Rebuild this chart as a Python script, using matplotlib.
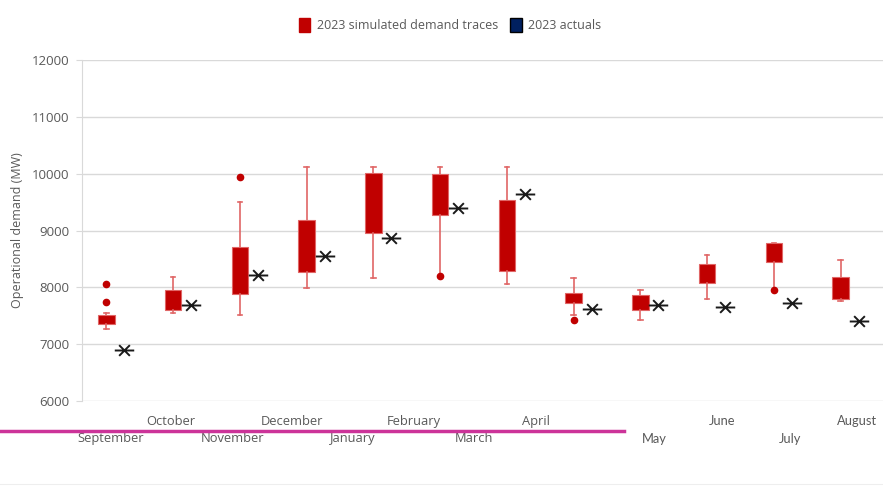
import matplotlib.pyplot as plt
from matplotlib.patches import Patch
from matplotlib.lines import Line2D
from matplotlib.path import Path

months = ["September", "October", "November", "December", "January", "February",
          "March", "April", "May", "June", "July", "August"]

# simulated demand traces (MW): box edges, whisker ends, outliers
q1 = [7360, 7600, 7880, 8275, 8960, 9270, 8290, 7720, 7600, 8080, 8445, 7795]
q3 = [7515, 7960, 8715, 9190, 10010, 10000, 9530, 7905, 7865, 8410, 8785, 8175]
whis_lo = [7265, 7545, 7520, 7985, 8170, 8200, 8055, 7515, 7425, 7800, 7960, 7765]
whis_hi = [7545, 8180, 9510, 10120, 10120, 10120, 10120, 8170, 7955, 8565, 8785, 8475]
outliers = [[8050, 7750], [], [9935], [], [], [8195], [], [7420], [], [], [7955], []]

# 2023 actuals (MW)
actuals = [6900, 7695, 8210, 8545, 8860, 9400, 9635, 7620, 7685, 7650, 7730, 7415]

# tick label placement (the left half of the source is squeezed)
label_x = [-0.07, 0.83, 1.75, 2.65, 3.56, 4.47, 5.37, 6.30, 8.08, 9.09, 10.11, 11.11]

RED = "#C00000"
LIGHT_RED = "#E06666"
NAVY = "#002060"
GRAY = "#595959"

# Excel-style star: a dash with an x on top
STAR = Path([(-1, 0), (1, 0), (-0.55, -0.55), (0.55, 0.55), (-0.55, 0.55), (0.55, -0.55)],
            [Path.MOVETO, Path.LINETO, Path.MOVETO, Path.LINETO, Path.MOVETO, Path.LINETO])


def main():
    fig = plt.figure(figsize=(8.83, 4.86), dpi=100)
    ax = fig.add_axes([0.0929, 0.1749, 0.9071, 0.7016])

    stats = []
    for i in range(len(months)):
        stats.append({"med": (q1[i] + q3[i]) / 2, "q1": q1[i], "q3": q3[i],
                      "whislo": whis_lo[i], "whishi": whis_hi[i],
                      "fliers": outliers[i]})
    pos = [i - 0.135 for i in range(len(months))]
    ax.bxp(stats, positions=pos, widths=0.25, patch_artist=True,
           showfliers=True, capwidths=0.07,
           boxprops=dict(facecolor=RED, edgecolor=LIGHT_RED, linewidth=0.8),
           medianprops=dict(color=RED, linewidth=0),
           whiskerprops=dict(color=LIGHT_RED, linewidth=1.2),
           capprops=dict(color=LIGHT_RED, linewidth=1.2),
           flierprops=dict(marker="o", markerfacecolor=RED, markeredgecolor=RED,
                           markersize=4.5))

    ax.plot([i + 0.135 for i in range(len(months))], actuals, linestyle="none",
            marker=STAR, markersize=14, markeredgecolor="#1a1a1a",
            markeredgewidth=1.4, markerfacecolor="none", zorder=4)

    ax.set_xlim(-0.5, 11.5)
    ax.set_ylim(6000, 12000)
    ax.set_yticks(range(6000, 12001, 1000))
    ax.yaxis.grid(True, color="#D9D9D9", linewidth=1)
    ax.set_axisbelow(True)
    for side in ["top", "right", "bottom"]:
        ax.spines[side].set_visible(False)
    ax.spines["left"].set_color("#D9D9D9")
    ax.tick_params(axis="y", colors="#D9D9D9", length=4, labelcolor=GRAY,
                   labelsize=9.5, pad=5)
    for t in ax.get_yticklabels():
        t.set_fontfamily("Open Sans")
    ax.set_xticks([])
    ax.set_ylabel("Operational demand (MW)", color=GRAY, fontsize=9,
                  family="Open Sans", labelpad=6)

    for i, name in enumerate(months):
        upper = i % 2 == 1
        ax.text(label_x[i], 5640 if upper else 5340, name,
                ha="center", va="center", color=GRAY, fontsize=9.3,
                family="Lato" if i >= 8 else "Open Sans", clip_on=False)

    fig.add_artist(Line2D([0, 624 / 883], [1 - 431 / 486, 1 - 431 / 486],
                          color="#CC3399", linewidth=2.5))
    fig.add_artist(Line2D([0, 1], [1 - 484 / 486, 1 - 484 / 486],
                          color="#EEEEEE", linewidth=0.8))

    handles = [Patch(facecolor=RED, edgecolor=RED),
               Patch(facecolor=NAVY, edgecolor="black")]
    fig.legend(handles, ["2023 simulated demand traces", "2023 actuals"],
               loc="center", bbox_to_anchor=(450 / 883, 1 - 25 / 486), ncol=2,
               frameon=False, handlelength=0.9, handleheight=1.3,
               handletextpad=0.5, columnspacing=1.0,
               prop={"family": "Open Sans", "size": 9}, labelcolor=GRAY)

    fig.savefig("out.png", dpi=100)
    plt.close(fig)


if __name__ == "__main__":
    main()
